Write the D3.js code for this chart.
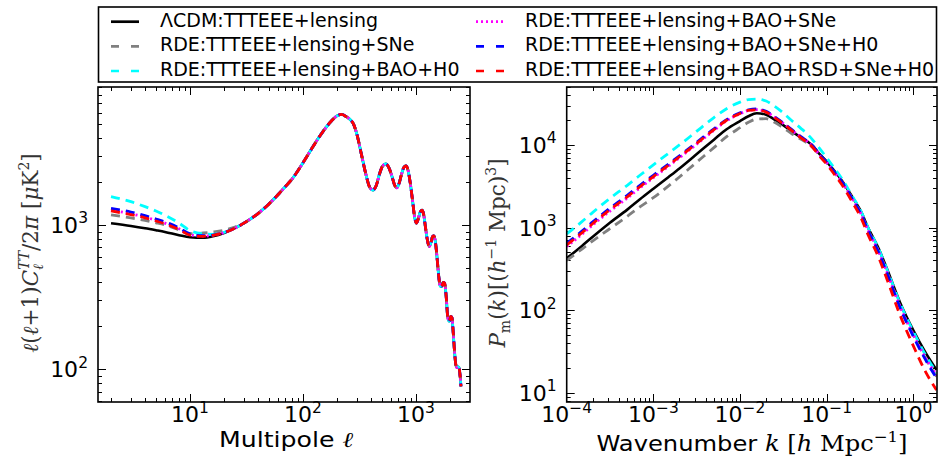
<!DOCTYPE html>
<html><head><meta charset="utf-8">
<script src="https://cdn.jsdelivr.net/npm/d3@7"></script>
<style>
html,body{margin:0;padding:0;background:#fff;}
svg{display:block;}
text{font-family:"DejaVu Sans",sans-serif;white-space:pre;}
</style></head><body>
<svg id="chart" width="938" height="458"></svg>
<script>
// ---------------- DATA ----------------
const seriesNames = ["\u039BCDM:TTTEEE+lensing", "RDE:TTTEEE+lensing+SNe", "RDE:TTTEEE+lensing+BAO+H0",
  "RDE:TTTEEE+lensing+BAO+SNe", "RDE:TTTEEE+lensing+BAO+SNe+H0", "RDE:TTTEEE+lensing+BAO+RSD+SNe+H0"];
const seriesColors = ["#000000", "#808080", "#00ffff", "#ff00ff", "#0000ff", "#ff0000"];
const seriesDash = [null, "9,6", "9,6", "2,3", "9,6", "9,6"];

// CMB TT spectrum: multipoles and D_ell [muK^2]
const ell = [2,3,4,5,6,8,10,13,16,20,25,30,40,50,60,70,80,100,120,140,160,180,200,220,240,260,280,300,330,360,
  390,415,445,475,505,540,575,610,645,675,710,745,780,815,850,890,935,975,1010,1050,1090,1130,1170,1210,1260,1310,
  1360,1400,1440,1490,1540,1590,1640,1690,1740,1790,1850,1910,1970,2030,2080,2130,2190,2250,2300,2350,2400,2450,2500];
const ttLCDM = [1028,985,950,920,895,850,822,815,835,880,950,1030,1200,1400,1620,1850,2080,2700,3400,4100,
  4750,5300,5700,5850,5650,5400,5000,4250,3050,2250,1820,1745,1880,2250,2550,2650,2500,2200,1900,1810,
  1950,2250,2500,2570,2400,1950,1450,1120,1030,1110,1230,1265,1180,980,790,710,760,830,840,750,
  580,440,375,375,400,395,320,230,215,232,228,185,135,108,103,104,103,92,76];
// RDE fits differ from LCDM only at low multipoles (ell = 2 ... 25)
const ttLowSNe        = [1173,1120,1075,1035,1000,925,870,880,895,920,968];
const ttLowBAOH0      = [1570,1450,1340,1250,1170,1030,915,870,862,890,950];
const ttLowBAOSNe     = [1270,1195,1135,1078,1030,940,857,837,848,884,950];
const ttLowBAOSNeH0   = [1305,1230,1160,1100,1050,955,867,842,851,886,950];
const ttLowBAORSDSNeH0= [1250,1180,1120,1065,1020,930,850,835,848,884,950];

// Matter power spectrum: k [h/Mpc], P(k) [(Mpc/h)^3]
const kVals = [1e-4,1.5e-4,2e-4,3e-4,5e-4,7e-4,1e-3,1.5e-3,2e-3,3e-3,5e-3,7e-3,0.01,0.0125,0.0156,0.02,0.025,0.03,
  0.04,0.05,0.06,0.07,0.08,0.1,0.12,0.15,0.2,0.25,0.3,0.4,0.5,0.7,1.0,1.4,1.85];
const pkLCDM = [425,600,776,1100,1650,2200,2950,4100,5200,7400,11600,15500,19500,22300,24200,23300,20300,18000,
  14500,12400,11000,9600,8100,6300,5000,3700,2300,1550,1000,550,310,125,57,30,19];
const pkSNe = [400,550,690,935,1370,1780,2300,3200,4100,5900,9300,12600,16200,18800,20600,20800,18800,16700,
  13600,11800,10500,9200,7800,6100,4800,3550,2200,1470,940,510,285,112,50,25.5,15.7];
const pkBAOH0 = [840,1180,1530,2170,3250,4300,5750,7950,10000,14000,21500,27500,33000,35500,36000,34000,29500,25500,
  19500,16000,13500,11300,9500,7000,5400,3900,2350,1560,1000,545,305,122,55,28,17.5];
const pkBAOSNe = [590,830,1075,1520,2280,3020,4020,5550,7000,9800,15000,19600,23900,26200,26800,25200,21700,19000,
  15000,12600,11000,9500,7950,6150,4850,3560,2180,1460,930,505,283,112,50.5,26,16.3];
const pkBAOSNeH0 = [646,905,1170,1650,2460,3250,4300,5900,7400,10300,15700,20300,24500,26700,27300,25600,22000,19200,
  15200,12700,11100,9600,8000,6150,4850,3550,2170,1440,920,495,275,108,48,24.5,15];
const pkBAORSDSNeH0 = [616,865,1120,1580,2360,3120,4150,5700,7200,10000,15300,19900,24100,26300,26600,25000,21500,18800,
  14800,12300,10700,9200,7650,5850,4550,3300,1990,1300,820,430,232,88,37,17.5,10.8];

const leftXTicks = [10, 100, 1000];
const leftYTicks = [100, 1000];
const rightXTicks = [1e-4, 1e-3, 1e-2, 1e-1, 1];
const rightYTicks = [10, 100, 1000, 10000];

// ---------------- BUILD ----------------
const ttSeries = [ttLCDM, ttLowSNe, ttLowBAOH0, ttLowBAOSNe, ttLowBAOSNeH0, ttLowBAORSDSNeH0]
  .map((a, i) => i === 0 ? a : a.concat(ttLCDM.slice(a.length)));
const pkSeries = [pkLCDM, pkSNe, pkBAOH0, pkBAOSNe, pkBAOSNeH0, pkBAORSDSNeH0];

const svg = d3.select("#chart");
svg.append("rect").attr("width", 938).attr("height", 458).attr("fill", "#fff");

const L = {x0: 98, x1: 470, y0: 87, y1: 402};
const R = {x0: 566.7, x1: 937, y0: 87, y1: 402};

const xL = d3.scaleLog().domain([1.534, 3006]).range([L.x0, L.x1]);
const yL = d3.scaleLog().domain([59.3, 9043]).range([L.y1, L.y0]);
const xR = d3.scaleLog().domain([1e-4, 1.875]).range([R.x0, R.x1]);
const yR = d3.scaleLog().domain([7.73, 50350]).range([R.y1, R.y0]);

function minorVals(dom) {
  const out = [];
  const lo = Math.floor(Math.log10(dom[0])), hi = Math.ceil(Math.log10(dom[1]));
  for (let e = lo; e <= hi; e++) for (let m = 1; m <= 9; m++) {
    const v = m * Math.pow(10, e);
    if (v > dom[0] * 1.002 && v < dom[1] * 0.998) out.push({v, major: m === 1});
  }
  return out;
}

function powLabel(g, v, anchor) {
  const e = Math.round(Math.log10(v));
  const t = g.append("text").attr("text-anchor", anchor).style("font-size", "22px").attr("fill", "#000");
  t.append("tspan").text("10");
  t.append("tspan").attr("dy", -9.5).style("font-size", "15.5px").text(e < 0 ? "\u2212" + (-e) : String(e));
  return t;
}

function drawPanel(P, x, y, xt, yt, clipId) {
  const g = svg.append("g");
  g.append("defs").append("clipPath").attr("id", clipId)
    .append("rect").attr("x", P.x0).attr("y", P.y0).attr("width", P.x1 - P.x0).attr("height", P.y1 - P.y0);
  const tk = g.append("g").attr("stroke", "#000").attr("stroke-width", 1);
  minorVals(x.domain()).forEach(d => {
    const px = Math.round(x(d.v)) + 0.5, len = d.major ? 8 : 4;
    tk.append("line").attr("x1", px).attr("x2", px).attr("y1", P.y1).attr("y2", P.y1 - len);
    tk.append("line").attr("x1", px).attr("x2", px).attr("y1", P.y0).attr("y2", P.y0 + len);
  });
  minorVals(y.domain()).forEach(d => {
    const py = Math.round(y(d.v)) + 0.5, len = d.major ? 8 : 4;
    tk.append("line").attr("y1", py).attr("y2", py).attr("x1", P.x0).attr("x2", P.x0 + len);
    tk.append("line").attr("y1", py).attr("y2", py).attr("x1", P.x1).attr("x2", P.x1 - len);
  });
  xt.forEach(v => powLabel(g, v, "middle").attr("x", x(v)).attr("y", P.y1 + 20));
  yt.forEach(v => powLabel(g, v, "end").attr("x", P.x0 - 10).attr("y", y(v) + 8));
  return g;
}

function drawLines(g, xs, ys, x, y, clipId) {
  const lg = g.append("g").attr("clip-path", `url(#${clipId})`);
  const line = d3.line().x(d => x(d[0])).y(d => y(d[1])).curve(d3.curveMonotoneX);
  ys.forEach((arr, i) => {
    lg.append("path").datum(xs.map((xv, j) => [xv, arr[j]]))
      .attr("d", line).attr("fill", "none")
      .attr("stroke", seriesColors[i]).attr("stroke-width", i === 0 ? 2.6 : 2.8)
      .attr("stroke-dasharray", seriesDash[i]);
  });
}

const gL = drawPanel(L, xL, yL, leftXTicks, leftYTicks, "clipL");
drawLines(gL, ell, ttSeries, xL, yL, "clipL");
const gR = drawPanel(R, xR, yR, rightXTicks, rightYTicks, "clipR");
drawLines(gR, kVals, pkSeries, xR, yR, "clipR");

[L, R].forEach(P => svg.append("rect").attr("x", P.x0).attr("y", P.y0)
  .attr("width", P.x1 - P.x0).attr("height", P.y1 - P.y0)
  .attr("fill", "none").attr("stroke", "#000").attr("stroke-width", 1.6));

// ---------- math-ish labels ----------
function mathText(parent, parts, base, color) {
  const inner = parent.append("g");
  let x = 0, lastStart = 0;
  parts.forEach(p => {
    const el = inner.append("text").attr("y", -(p.sh || 0)).attr("fill", color)
      .style("font-family", p.sans ? "'DejaVu Sans'" : "'DejaVu Serif'")
      .style("font-style", p.it ? "italic" : "normal")
      .style("font-size", (p.sz || base) + "px")
      .text(p.t);
    const sx = p.stack ? lastStart : x;
    el.attr("x", sx);
    const w = el.node().getComputedTextLength();
    if (p.stack) x = Math.max(x, sx + w); else { lastStart = sx; x = sx + w; }
  });
  inner.attr("transform", `translate(${-x / 2},0)`);
  return x;
}

// left x label
mathText(svg.append("g").attr("transform", "translate(286,447) scale(1.2,1)"),
  [{t: "Multipole ", sans: true}, {t: "\u2113", it: true}], 21, "#000");
// right x label
mathText(svg.append("g").attr("transform", "translate(752,451) scale(1.1,1)"),
  [{t: "Wavenumber ", sans: true}, {t: "k", it: true}, {t: " ["}, {t: "h", it: true}, {t: " Mpc"},
   {t: "\u22121", sz: 15, sh: 9}, {t: "]"}], 22, "#000");
// left y label
mathText(svg.append("g").attr("transform", "translate(38,253) rotate(-90)"),
  [{t: "\u2113", it: true}, {t: "("}, {t: "\u2113", it: true}, {t: "+1)"}, {t: "C", it: true},
   {t: "TT", it: true, sz: 14, sh: 9}, {t: "\u2113", it: true, sz: 14, sh: -5, stack: true},
   {t: "/2"}, {t: "\u03C0", it: true}, {t: " ["}, {t: "\u03BC", it: true}, {t: "K"},
   {t: "2", sz: 14, sh: 9}, {t: "]"}], 21.5, "#333");
// right y label
mathText(svg.append("g").attr("transform", "translate(505,253) rotate(-90)"),
  [{t: "P", it: true}, {t: "m", sz: 14, sh: -5}, {t: "("}, {t: "k", it: true}, {t: ")[("},
   {t: "h", it: true}, {t: "\u22121", sz: 14, sh: 9}, {t: " Mpc)"}, {t: "3", sz: 14, sh: 9}, {t: "]"}], 21.5, "#333");

// ---------- legend ----------
const leg = svg.append("g");
leg.append("rect").attr("x", 98.5).attr("y", 7).attr("width", 838).attr("height", 75)
  .attr("fill", "#fff").attr("stroke", "#000").attr("stroke-width", 1.6);
const legPos = [[111, 160, 26.7], [111, 160, 51.4], [111, 160, 76], [476, 525, 26.7], [476, 525, 51.4], [476, 525, 76]];
const legDash = [null, "8,12", "8,12", "2,3", "8,12", "8,12"];
seriesNames.forEach((name, i) => {
  const [lx, tx, by] = legPos[i];
  leg.append("line").attr("x1", lx).attr("x2", lx + 28).attr("y1", by - 5).attr("y2", by - 5)
    .attr("stroke", seriesColors[i]).attr("stroke-width", 2.7).attr("stroke-dasharray", legDash[i]);
  leg.append("text").attr("x", tx).attr("y", by).style("font-size", "19px").attr("fill", "#000").text(name);
});
</script></body></html>
